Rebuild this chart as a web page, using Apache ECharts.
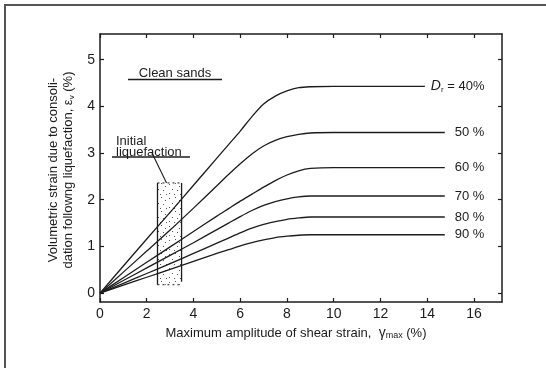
<!DOCTYPE html>
<html>
<head>
<meta charset="utf-8">
<script src="https://cdn.jsdelivr.net/npm/echarts@6/dist/echarts.min.js"></script>
<style>
  html, body { margin: 0; padding: 0; background: #fff; }
  #chart { width: 546px; height: 368px; }
</style>
</head>
<body>
<div id="chart"></div>
<script>
// Volumetric strain after liquefaction vs. max shear strain (clean sands)
const shearStrain = [0, 1, 2, 3, 4, 5, 5.5, 6, 6.5, 7, 7.5, 8, 8.5, 9, 10, 12];
const densityLabels = ['40%', '50 %', '60 %', '70 %', '80 %', '90 %'];
const curveEnd = [13.9, 14.75, 14.75, 14.75, 14.75, 14.75];
const dr40 = [0, 0.58, 1.16, 1.73, 2.31, 2.89, 3.18, 3.47, 3.78, 4.05, 4.22, 4.33, 4.40, 4.42, 4.43, 4.43];
const dr50 = [0, 0.45, 0.90, 1.35, 1.82, 2.30, 2.54, 2.77, 2.98, 3.15, 3.27, 3.35, 3.40, 3.43, 3.44, 3.44];
const dr60 = [0, 0.33, 0.66, 0.99, 1.32, 1.65, 1.81, 1.97, 2.12, 2.27, 2.41, 2.53, 2.62, 2.67, 2.69, 2.69];
const dr70 = [0, 0.27, 0.54, 0.81, 1.08, 1.36, 1.50, 1.64, 1.77, 1.88, 1.96, 2.02, 2.06, 2.08, 2.08, 2.08];
const dr80 = [0, 0.21, 0.42, 0.63, 0.85, 1.07, 1.18, 1.29, 1.39, 1.47, 1.53, 1.58, 1.61, 1.63, 1.63, 1.63];
const dr90 = [0, 0.17, 0.34, 0.51, 0.68, 0.85, 0.93, 1.01, 1.08, 1.14, 1.19, 1.22, 1.24, 1.25, 1.25, 1.25];
const curves = [dr40, dr50, dr60, dr70, dr80, dr90];

// range of strain at initial liquefaction
const bandStrain = [2.46, 3.49];
const bandVolStrain = [0.18, 2.36];

const xTicks = [0, 2, 4, 6, 8, 10, 12, 14, 16];
const yTicks = [0, 1, 2, 3, 4, 5];

const INK = '#1c1c1c';
const FONT = "'Liberation Sans', Arial, sans-serif";

// stipple texture for the band
function stipple() {
  const c = document.createElement('canvas');
  c.width = 14; c.height = 14;
  const g = c.getContext('2d');
  g.fillStyle = '#fff';
  g.fillRect(0, 0, 14, 14);
  g.fillStyle = '#555';
  const dots = [[1,2],[7,1],[11,4],[4,7],[9,8],[1,11],[6,12],[12,12]];
  dots.forEach(function (d) { g.fillRect(d[0], d[1], 1, 1); });
  return c;
}

const chart = echarts.init(document.getElementById('chart'), null, { renderer: 'canvas' });

function axisCommon(ticks, showLabel) {
  return {
    axisLine: { show: true, onZero: false, lineStyle: { color: INK, width: 1.5 } },
    axisTick: { show: true, inside: true, length: 4, customValues: ticks, lineStyle: { color: INK, width: 1.2 } },
    axisLabel: { show: showLabel, customValues: ticks, color: INK, fontSize: 14, fontFamily: FONT, margin: 5 },
    splitLine: { show: false }
  };
}

const lineSeries = curves.map(function (vals, i) {
  const pts = shearStrain.map(function (x, k) { return [x, vals[k]]; });
  pts.push([curveEnd[i], vals[vals.length - 1]]);
  return {
    type: 'line',
    data: pts,
    smooth: 0.3,
    symbol: 'none',
    z: 3,
    lineStyle: { color: INK, width: 1.3 },
    endLabel: {
      show: true,
      distance: i === 0 ? 6 : 10,
      color: INK,
      fontFamily: FONT,
      fontSize: 13,
      formatter: i === 0 ? '{d|D}{r|r}{t| = ' + densityLabels[0] + '}' : densityLabels[i],
      rich: {
        d: { fontStyle: 'italic', fontSize: 14, fontFamily: FONT, color: INK },
        r: { fontSize: 8, fontFamily: FONT, color: INK, padding: [8, 0, 0, 0] },
        t: { fontSize: 13, fontFamily: FONT, color: INK }
      }
    }
  };
});

const bandSeries = {
  type: 'custom',
  z: 1,
  data: [[bandStrain[0], bandVolStrain[0], bandStrain[1], bandVolStrain[1]]],
  encode: { x: [0, 2], y: [1, 3] },
  renderItem: function (params, api) {
    const a = api.coord([api.value(0), api.value(1)]);
    const b = api.coord([api.value(2), api.value(3)]);
    const x0 = a[0], x1 = b[0], yBot = a[1], yTop = b[1];
    const edge = { stroke: INK, lineWidth: 1.3 };
    return {
      type: 'group',
      children: [
        { type: 'rect', shape: { x: x0, y: yTop, width: x1 - x0, height: yBot - yTop },
          style: { fill: { image: stipple(), repeat: 'repeat' } } },
        { type: 'line', shape: { x1: x0, y1: yTop, x2: x0, y2: yBot }, style: edge },
        { type: 'line', shape: { x1: x1, y1: yTop, x2: x1, y2: yBot - 3 }, style: edge },
        { type: 'line', shape: { x1: x0, y1: yTop, x2: x1, y2: yTop },
          style: { stroke: INK, lineWidth: 1, lineDash: [2, 3] } },
        { type: 'line', shape: { x1: x0, y1: yBot, x2: x1, y2: yBot },
          style: { stroke: INK, lineWidth: 1, lineDash: [2, 3] } }
      ]
    };
  }
};

const txt = { fill: INK, fontFamily: FONT, fontSize: 13 };

chart.setOption({
  animation: false,
  backgroundColor: '#fff',
  grid: { left: 100, right: 44, top: 34, bottom: 66 },
  xAxis: [
    Object.assign({ type: 'value', min: 0, max: 17.2, position: 'bottom' }, axisCommon(xTicks, true)),
    Object.assign({ type: 'value', min: 0, max: 17.2, position: 'top' }, axisCommon(xTicks, false))
  ],
  yAxis: [
    Object.assign({ type: 'value', min: -0.19, max: 5.55, position: 'left' }, axisCommon(yTicks, true)),
    Object.assign({ type: 'value', min: -0.19, max: 5.55, position: 'right' }, axisCommon(yTicks, false))
  ],
  series: [bandSeries].concat(lineSeries),
  graphic: [
    // page border
    { type: 'line', shape: { x1: 4, y1: 5, x2: 546, y2: 5 }, style: { stroke: '#555', lineWidth: 2 } },
    { type: 'line', shape: { x1: 5, y1: 4, x2: 5, y2: 368 }, style: { stroke: '#555', lineWidth: 2 } },
    // axis titles
    { type: 'text', x: 296, y: 333,
      style: Object.assign({}, txt, {
        text: 'Maximum amplitude of shear strain,  {g|γ}{s|max} (%)',
        align: 'center', verticalAlign: 'middle',
        rich: {
          g: { fontSize: 14, fontFamily: FONT, fill: INK },
          s: { fontSize: 9, fontFamily: FONT, fill: INK, padding: [6, 0, 0, 0] }
        }
      }) },
    { type: 'text', x: 61, y: 170, rotation: Math.PI / 2,
      style: Object.assign({}, txt, {
        text: 'Volumetric strain due to consoli-\ndation followng liquefaction, {e|ε}{s|v} (%)',
        align: 'center', verticalAlign: 'middle', lineHeight: 15,
        rich: {
          e: { fontSize: 13, fontFamily: FONT, fill: INK, lineHeight: 15 },
          s: { fontSize: 8, fontFamily: FONT, fill: INK, padding: [6, 0, 0, 0], lineHeight: 15 }
        }
      }) },
    // annotations
    { type: 'text', x: 175, y: 73,
      style: Object.assign({}, txt, { text: 'Clean sands', align: 'center', verticalAlign: 'middle' }) },
    { type: 'line', shape: { x1: 128, y1: 79.5, x2: 222, y2: 79.5 }, style: { stroke: INK, lineWidth: 1.6 } },
    { type: 'text', x: 116, y: 141,
      style: Object.assign({}, txt, { text: 'Initial', align: 'left', verticalAlign: 'middle' }) },
    { type: 'text', x: 116, y: 152,
      style: Object.assign({}, txt, { text: 'liquefaction', align: 'left', verticalAlign: 'middle' }) },
    { type: 'line', shape: { x1: 112, y1: 157, x2: 190, y2: 157 }, style: { stroke: INK, lineWidth: 1.3 } },
    { type: 'line', shape: { x1: 152, y1: 153, x2: 168, y2: 186 }, style: { stroke: INK, lineWidth: 1.1 } }
  ]
});
</script>
</body>
</html>
